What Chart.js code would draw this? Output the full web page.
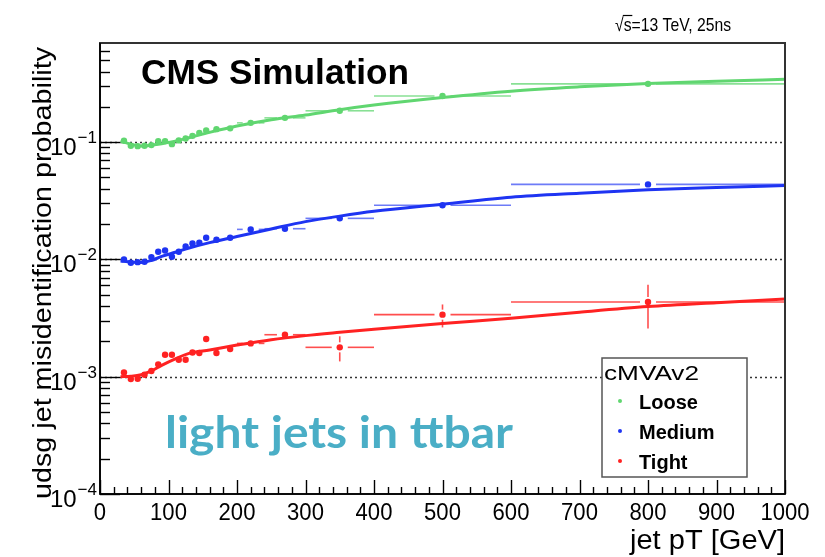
<!DOCTYPE html>
<html lang="en">
<head>
<meta charset="UTF-8">
<title>udsg jet misidentification probability</title>
<script src="https://cdn.jsdelivr.net/npm/chart.js@4"></script>
<style>
  html, body { margin: 0; padding: 0; background: #fff; }
  #wrap { width: 825px; height: 557px; position: relative; }
</style>
</head>
<body>
<div id="wrap"><canvas id="chart"></canvas></div>
<script>
// pT binning (GeV) and bin centres
const ptBins = [30, 40, 50, 60, 70, 80, 90, 100, 110, 120, 130, 140, 150, 160, 180, 200, 240, 300, 400, 600, 1000];
const ptCenters = [35, 45, 55, 65, 75, 85, 95, 105, 115, 125, 135, 145, 155, 170, 190, 220, 270, 350, 500, 800];

// misidentification rates per working point
const looseRate = [0.1026, 0.0930, 0.0924, 0.0930, 0.0943, 0.102, 0.102, 0.0961, 0.1034, 0.1075, 0.1131, 0.1200, 0.1258, 0.129, 0.131, 0.146, 0.161, 0.185, 0.247, 0.314];
const mediumRate = [0.0100, 0.00937, 0.00948, 0.00956, 0.01046, 0.01163, 0.01193, 0.01054, 0.01163, 0.01291, 0.01369, 0.01388, 0.01531, 0.01472, 0.01531, 0.01803, 0.01827, 0.02239, 0.0290, 0.0436];
const tightRate = [0.001088, 0.000956, 0.000961, 0.00104, 0.00112, 0.001274, 0.00154, 0.00154, 0.001396, 0.001396, 0.00161, 0.001592, 0.002096, 0.001592, 0.00172, 0.001923, 0.00228, 0.00178, 0.00338, 0.00433];

// statistical uncertainties
const looseErr = [0.001, 0.001, 0.001, 0.001, 0.001, 0.001, 0.001, 0.001, 0.001, 0.001, 0.001, 0.001, 0.001, 0.001, 0.001, 0.0012, 0.0015, 0.002, 0.003, 0.005];
const mediumErr = [0.0001, 0.0001, 0.0001, 0.0001, 0.0001, 0.0001, 0.0001, 0.0001, 0.0001, 0.0001, 0.0001, 0.0001, 0.0001, 0.0001, 0.0001, 0.00015, 0.0002, 0.0003, 0.0005, 0.0012];
const tightErr = [0.00004, 0.00004, 0.00004, 0.00004, 0.00005, 0.00005, 0.00006, 0.00006, 0.00007, 0.00007, 0.00008, 0.00008, 0.0001, 0.00008, 0.00009, 0.0001, 0.00018, 0.00043, 0.00075, 0.00175];

// fitted curves, sampled along pT
const fitPt = [30, 45, 60, 75, 90, 110, 130, 160, 200, 250, 300, 350, 400, 500, 600, 700, 800, 900, 1000];
const looseFit = [0.102, 0.096, 0.0925, 0.0943, 0.097, 0.102, 0.109, 0.121, 0.137, 0.155, 0.170, 0.189, 0.207, 0.240, 0.272, 0.296, 0.316, 0.330, 0.343];
const mediumFit = [0.0097, 0.0095, 0.0094, 0.0098, 0.0106, 0.0115, 0.0125, 0.0139, 0.0157, 0.0182, 0.0210, 0.0234, 0.0257, 0.0295, 0.0339, 0.0367, 0.0392, 0.0410, 0.0427];
const tightFit = [0.00100, 0.00101, 0.00104, 0.00112, 0.00125, 0.00142, 0.00158, 0.00169, 0.00186, 0.00207, 0.00224, 0.00239, 0.00254, 0.00284, 0.00315, 0.00355, 0.00396, 0.00428, 0.00459];

// axis labelling
const xTickLabels = [0, 100, 200, 300, 400, 500, 600, 700, 800, 900, 1000];
const yDecadeExps = [-4, -3, -2, -1];

const FONT = '"Liberation Sans", Arial, Helvetica, sans-serif';
const series = [
  { name: 'Loose', rate: looseRate, err: looseErr, fit: looseFit, color: 'rgb(96,214,112)', bar: 'rgba(96,214,112,0.75)' },
  { name: 'Medium', rate: mediumRate, err: mediumErr, fit: mediumFit, color: 'rgb(30,52,242)', bar: 'rgba(30,52,242,0.65)' },
  { name: 'Tight', rate: tightRate, err: tightErr, fit: tightFit, color: 'rgb(255,34,34)', bar: 'rgba(255,34,34,0.8)' }
];

const datasets = [];
series.forEach(s => {
  datasets.push({
    label: s.name + ' fit',
    data: fitPt.map((x, i) => ({ x, y: s.fit[i] })),
    showLine: true, borderColor: s.color, borderWidth: 3,
    pointRadius: 0, cubicInterpolationMode: 'monotone', order: 2
  });
  datasets.push({
    label: s.name,
    data: ptCenters.map((x, i) => ({ x, y: s.rate[i] })),
    showLine: false, pointRadius: 3.2, pointBorderWidth: 0,
    pointBackgroundColor: s.color, order: 1
  });
});

function seg(ctx, x1, y1, x2, y2) {
  ctx.beginPath(); ctx.moveTo(x1, y1); ctx.lineTo(x2, y2); ctx.stroke();
}

// text squeezed or stretched along its direction to a given width
function fitText(ctx, text, x, y, width) {
  const w = ctx.measureText(text).width;
  ctx.save();
  ctx.translate(x, y); ctx.scale(width / w, 1);
  ctx.fillText(text, 0, 0);
  ctx.restore();
}

// ROOT-like frame: dotted decades, inward ticks, error bars, labels and legend
const rootStyle = {
  id: 'rootStyle',
  beforeDatasetsDraw(chart) {
    const { ctx, chartArea: a, scales: { y } } = chart;
    ctx.save();
    ctx.strokeStyle = '#333'; ctx.lineWidth = 1.3; ctx.setLineDash([2, 3]);
    yDecadeExps.slice(1).forEach(e => {
      const py = Math.round(y.getPixelForValue(Math.pow(10, e))) + 0.5;
      seg(ctx, a.left, py, a.right, py);
    });
    ctx.restore();
  },
  afterDatasetsDraw(chart) {
    const { ctx, scales: { x, y } } = chart;
    ctx.save();
    ctx.lineWidth = 1.6;
    const gapX = 8, gapY = 5;
    series.forEach(s => {
      ctx.strokeStyle = s.bar;
      ptCenters.forEach((c, i) => {
        const px = x.getPixelForValue(c), py = y.getPixelForValue(s.rate[i]);
        const xl = x.getPixelForValue(ptBins[i]), xr = x.getPixelForValue(ptBins[i + 1]);
        if (xl < px - gapX) seg(ctx, xl, py, px - gapX, py);
        if (xr > px + gapX) seg(ctx, px + gapX, py, xr, py);
        const yt = y.getPixelForValue(s.rate[i] + s.err[i]);
        const yb = y.getPixelForValue(Math.max(s.rate[i] - s.err[i], 1e-5));
        if (yt < py - gapY) seg(ctx, px, yt, px, py - gapY);
        if (yb > py + gapY) seg(ctx, px, py + gapY, px, yb);
      });
    });
    ctx.restore();
  },
  afterDraw(chart) {
    const { ctx, chartArea: a, scales: { x, y } } = chart;
    ctx.save();
    // frame
    ctx.strokeStyle = '#333'; ctx.lineWidth = 2;
    ctx.strokeRect(a.left, a.top, a.right - a.left, a.bottom - a.top);
    ctx.strokeStyle = '#000'; ctx.lineWidth = 1.6;
    seg(ctx, a.left, a.top, a.left, a.bottom);
    seg(ctx, a.left, a.bottom, a.right, a.bottom);

    // x ticks pointing inward
    ctx.lineWidth = 1.4;
    for (let v = 0; v <= 1000; v += 20) {
      const px = Math.round(x.getPixelForValue(v)) + 0.5;
      seg(ctx, px, a.bottom, px, a.bottom - (v % 100 === 0 ? 14 : 7));
    }
    // y ticks: decades long, sub-decades short
    yDecadeExps.forEach(e => {
      for (let m = 1; m <= 9; m++) {
        const v = m * Math.pow(10, e);
        if (v > y.max) break;
        const py = Math.round(y.getPixelForValue(v)) + 0.5;
        seg(ctx, a.left, py, a.left + (m === 1 ? 20 : 10), py);
      }
    });

    ctx.fillStyle = '#000';
    // x tick labels
    ctx.font = '24px ' + FONT; ctx.textAlign = 'left'; ctx.textBaseline = 'alphabetic';
    xTickLabels.forEach(v => {
      const t = String(v);
      const w = ctx.measureText(t).width * 0.92;
      fitText(ctx, t, x.getPixelForValue(v) - w / 2, 520, w);
    });
    // y tick labels 10^n
    yDecadeExps.forEach(e => {
      const py = y.getPixelForValue(Math.pow(10, e));
      const ex = '\u2212' + Math.abs(e);
      ctx.textAlign = 'right';
      ctx.font = '17px ' + FONT;
      const w = ctx.measureText(ex).width;
      ctx.fillText(ex, 97, py + 1);
      ctx.font = '24px ' + FONT;
      ctx.fillText('10', 97 - w - 1, py + 13);
    });

    // axis titles
    ctx.textAlign = 'left';
    ctx.font = '27px ' + FONT;
    fitText(ctx, 'jet pT [GeV]', a.right - 155, 549, 155);
    ctx.save();
    ctx.translate(51, a.top + 4); ctx.rotate(-Math.PI / 2);
    ctx.font = '25px ' + FONT;
    fitText(ctx, 'udsg jet misidentification probability', -452, 0, 452);
    ctx.restore();

    // headers
    ctx.font = 'bold 35px ' + FONT;
    fitText(ctx, 'CMS Simulation', 141, 84, 268);
    ctx.font = '19px ' + FONT;
    const head = '\u221As=13 TeV, 25ns';
    const sx = 116 / ctx.measureText(head).width;
    ctx.save();
    ctx.translate(615, 31); ctx.scale(sx, 1);
    ctx.fillText(head, 0, 0);
    const wRoot = ctx.measureText('\u221A').width;
    const wS = ctx.measureText('s').width;
    ctx.lineWidth = 1.2;
    seg(ctx, wRoot - 1, -15.5, wRoot + wS + 1, -15.5);
    ctx.restore();

    ctx.fillStyle = '#4aaec6';
    ctx.font = 'bold 44px Lato, "Open Sans", sans-serif';
    fitText(ctx, 'light jets in ttbar', 165, 448, 348);

    // legend
    const lx = 602, ly = 358, lw = 145, lh = 119;
    ctx.fillStyle = '#fff'; ctx.fillRect(lx, ly, lw, lh);
    ctx.strokeStyle = '#555'; ctx.lineWidth = 1.5; ctx.strokeRect(lx, ly, lw, lh);
    ctx.fillStyle = '#000';
    ctx.font = '21px ' + FONT;
    fitText(ctx, 'cMVAv2', lx + 2, ly + 22, 95);
    ctx.font = 'bold 20px ' + FONT;
    series.forEach((s, i) => {
      const cy = ly + 43 + i * 30;
      ctx.fillStyle = s.color;
      ctx.beginPath(); ctx.arc(lx + 18, cy, 2, 0, Math.PI * 2); ctx.fill();
      ctx.fillStyle = '#000';
      ctx.fillText(s.name, lx + 37, cy + 8);
    });
    ctx.restore();
  }
};

new Chart(document.getElementById('chart'), {
  type: 'scatter',
  data: { datasets },
  options: {
    responsive: true, maintainAspectRatio: false, animation: false,
    layout: { padding: { top: 43, right: 40, bottom: 0, left: 0 } },
    plugins: { legend: { display: false }, tooltip: { enabled: false } },
    scales: {
      x: {
        type: 'linear', min: 0, max: 1000,
        grid: { display: false }, border: { display: false },
        ticks: { display: false },
        afterFit: s => { s.height = 63; }
      },
      y: {
        type: 'logarithmic', min: 1e-4, max: 0.7,
        grid: { display: false }, border: { display: false },
        ticks: { display: false },
        afterFit: s => { s.width = 100; }
      }
    }
  },
  plugins: [rootStyle]
});
</script>
</body>
</html>
